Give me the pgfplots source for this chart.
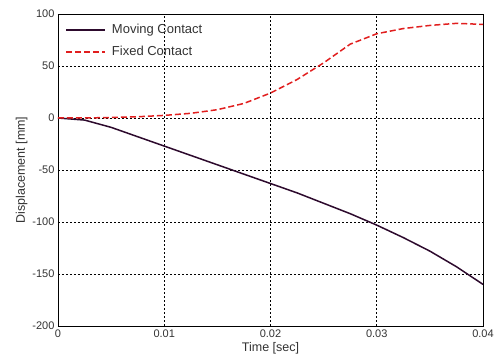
\documentclass[border=0pt]{standalone}
\usepackage{pgfplots}
\pgfplotsset{compat=1.18}
\usepackage{fontspec}
\setmainfont{Liberation Sans}
\definecolor{movc}{RGB}{45,10,45}
\definecolor{fixc}{RGB}{225,30,30}
\begin{document}
\begin{tikzpicture}
\path[use as bounding box] (-58pt,-37pt) rectangle (437pt,326pt);
\begin{axis}[
  scale only axis, width=425pt, height=312pt,
  xmin=0, xmax=0.04, ymin=-200, ymax=100,
  scaled x ticks=false,
  xtick={0,0.01,0.02,0.03,0.04},
  xticklabels={0,0.01,0.02,0.03,0.04},
  ytick={-200,-150,-100,-50,0,50,100},
  /pgf/number format/assume math mode=true,
  tick label style={font=\fontsize{11}{12}\selectfont, text=black!80},
  label style={font=\fontsize{12.5}{14}\selectfont, text=black!80},
  xlabel={Time [sec]}, ylabel={Displacement [mm]},
  xlabel style={yshift=2pt},
  ylabel style={yshift=-2pt},
  grid=major, major grid style={black, line width=0.6pt, dash pattern=on 2pt off 2pt},
  tick style={draw=none},
  axis line style={black, line width=0.8pt},
  legend style={at={(0.01,0.98)}, anchor=north west, draw=none, fill=none,
    font=\fontsize{13}{15}\selectfont, text=black!80, row sep=7pt,
    nodes={inner xsep=6pt}},
  legend cell align=left,
  legend image code/.code={\draw[#1] (0pt,0pt) -- (39pt,0pt);},
]
\addplot[movc, line width=1.5pt] coordinates {
(0,0) (0.0025,-2) (0.005,-9) (0.0075,-18) (0.01,-27) (0.0125,-36) (0.015,-45)
(0.0175,-54) (0.02,-63) (0.0225,-72) (0.025,-82) (0.0275,-92) (0.03,-103)
(0.0325,-115) (0.035,-128) (0.0375,-143) (0.04,-160)};
\addlegendentry{Moving Contact}
\addplot[fixc, line width=1.5pt, dash pattern=on 6pt off 3pt] coordinates {
(0,0) (0.0025,0) (0.005,0.5) (0.0075,1.2) (0.01,2.5) (0.0125,4.5) (0.015,8)
(0.0175,14) (0.02,24) (0.0225,37) (0.025,53) (0.0275,71) (0.03,81)
(0.0325,86) (0.035,89) (0.0375,91) (0.04,90)};
\addlegendentry{Fixed Contact}
\end{axis}
\end{tikzpicture}
\end{document}
